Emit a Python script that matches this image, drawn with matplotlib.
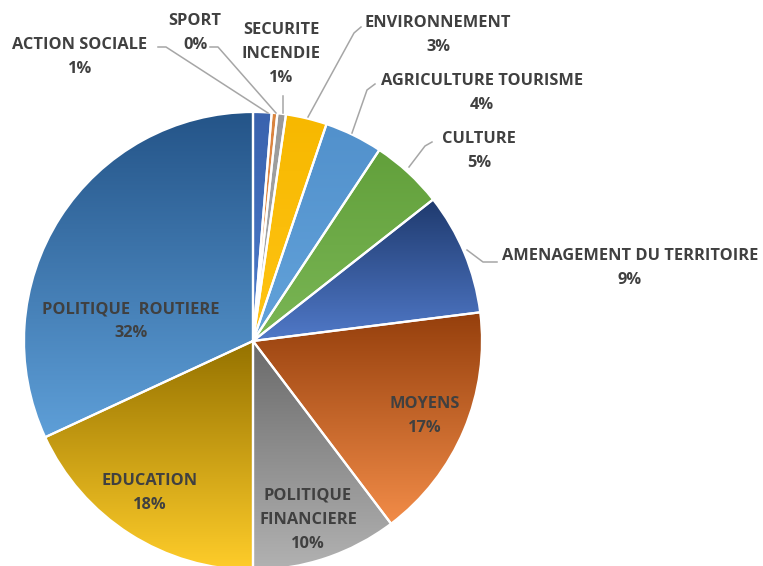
import numpy as np
import matplotlib.pyplot as plt
from matplotlib.colors import LinearSegmentedColormap

# ======== DONNEES ========
categories = ["ACTION SOCIALE", "SPORT", "SECURITE\nINCENDIE", "ENVIRONNEMENT",
              "AGRICULTURE TOURISME", "CULTURE", "AMENAGEMENT DU TERRITOIRE",
              "MOYENS", "POLITIQUE\nFINANCIERE", "EDUCATION", "POLITIQUE  ROUTIERE"]
values = [1.3, 0.4, 0.6, 2.9, 4.1, 5.1, 8.6, 16.7, 10.3, 18.1, 31.9]

# couleur haut (fonce) -> bas (clair) pour chaque part
top_colors = ["#3a63ae", "#d9843f", "#9a9a9a", "#f7b800", "#5291cc", "#62a03b",
              "#1f3a6e", "#953f0c", "#6a6a6a", "#957200", "#245488"]
bot_colors = ["#4c7ccc", "#ed8c4a", "#ababab", "#ffc414", "#62a2da", "#7ab655",
              "#5079c8", "#f28c48", "#b2b2b2", "#ffcd2a", "#5e9fd8"]

H = 566
def py(y):
    # coordonnees image (y vers le bas) -> donnees
    return H - y

# etiquettes exterieures: position de la 1ere ligne, chemin du trait
outside = {
    0: ((80, 45), [(158, 47), (166, 47), (268, 113)]),
    1: ((195, 21), [(210, 47), (218, 47), (276, 113)]),
    2: ((281, 30), [(283, 96), (283, 113)]),
    3: ((438, 23), [(361, 27), (354, 33), (308, 117)]),
    4: ((482, 81), [(375, 84), (367, 90), (352, 133)]),
    5: ((479, 139), [(432, 142), (425, 146), (409, 167)]),
    6: ((630, 256), [(497, 262), (483, 262), (467, 250)]),
}
inside = {7: (425, 404), 8: (308, 496), 9: (150, 481), 10: (131, 309)}
step = 24

fig = plt.figure(figsize=(7.63, 5.66), dpi=100)
ax = fig.add_axes([0, 0, 1, 1])

cx, cy, r = 253, py(341), 229
wedges, _ = ax.pie(values, startangle=90, counterclock=False, center=(cx, cy),
                   radius=r, frame=True,
                   wedgeprops=dict(edgecolor='white', linewidth=1.6))
ax.set_xlim(0, 763)
ax.set_ylim(0, H)
ax.set_aspect('equal')
ax.axis('off')

# degrade vertical dans chaque part
grad = np.linspace(1, 0, 256).reshape(-1, 1)
for w, c0, c1 in zip(wedges, top_colors, bot_colors):
    verts = w.get_path().vertices
    x0, x1 = verts[:, 0].min(), verts[:, 0].max()
    y0, y1 = verts[:, 1].min(), verts[:, 1].max()
    cmap = LinearSegmentedColormap.from_list("g", [c1, c0])
    im = ax.imshow(grad, cmap=cmap, extent=[x0, x1, y0, y1], origin='upper',
                   aspect='auto', zorder=1, interpolation='bilinear')
    im.set_clip_path(w)
    w.set_facecolor('none')
    w.set_zorder(2)

txt = dict(ha='center', va='center', fontsize=11.8, fontweight='bold',
           color='#404040', family=['Open Sans', 'DejaVu Sans'], zorder=4)

def put_label(i, tx, ty):
    lines = categories[i].split('\n') + [f"{values[i]:.0f}%"]
    for k, s in enumerate(lines):
        ax.text(tx, py(ty + k * step), s, **txt)

for i, ((tx, ty), path) in outside.items():
    put_label(i, tx, ty)
    xs = [p[0] for p in path]
    ys = [py(p[1]) for p in path]
    ax.plot(xs, ys, color='#a6a6a6', lw=1.1, zorder=3)

for i, (tx, ty) in inside.items():
    put_label(i, tx, ty)

fig.savefig("out.png", dpi=100)
